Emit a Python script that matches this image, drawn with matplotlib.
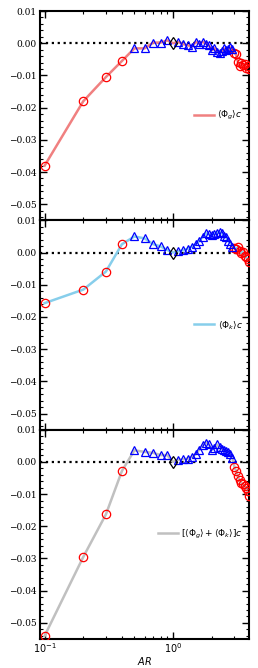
import numpy as np
import matplotlib
matplotlib.use("Agg")
import matplotlib.pyplot as plt
from matplotlib.ticker import AutoMinorLocator, LogLocator, NullFormatter

# aspect ratio values
ar_left = [0.1, 0.2, 0.3, 0.4]
ar_mid = [0.5, 0.6, 0.7, 0.8, 0.9]
ar_one = [1.0]
ar_tri = [1.1, 1.2, 1.3, 1.4, 1.5, 1.6, 1.7, 1.8, 1.9, 2.0,
          2.1, 2.2, 2.3, 2.4, 2.5, 2.6, 2.7, 2.8, 2.9]
ar_right = [3.0, 3.1, 3.2, 3.3, 3.4, 3.5, 3.6, 3.7, 3.8, 3.9]

# <Phi_g> c
phig_left = [-0.038, -0.018, -0.0105, -0.0055]
phig_mid = [-0.0016, -0.0016, 0.0002, 0.0002, 0.0009]
phig_one = [0.0]
phig_tri = [0.0004, -0.0003, -0.0006, -0.0011, 0.0004, -0.0001, 0.0004, -0.0001, -0.0006, -0.0022,
            -0.0015, -0.0027, -0.0029, -0.0025, -0.0016, -0.0022, -0.0018, -0.0013, -0.0017]
phig_right = [-0.003, -0.0035, -0.0058, -0.0072, -0.006, -0.0068, -0.0065, -0.0078, -0.007, -0.008]

# <Phi_k> c
phik_left = [-0.0157, -0.0115, -0.0059, 0.0026]
phik_mid = [0.005, 0.0044, 0.0026, 0.0019, 0.0008]
phik_one = [0.0]
phik_tri = [0.0004, 0.0007, 0.0012, 0.0018, 0.0026, 0.0036, 0.0048, 0.006, 0.0057, 0.0055,
            0.0058, 0.0062, 0.0064, 0.006, 0.0052, 0.0047, 0.0035, 0.0028, 0.0018]
phik_right = [0.0013, 0.001, 0.0018, 0.0005, -0.0002, 0.0003, -0.001, -0.0015, -0.002, -0.0028]

# [<Phi_g> + <Phi_k>] c
sum_left = [-0.054, -0.0295, -0.0163, -0.0028]
sum_mid = [0.0036, 0.0031, 0.0028, 0.0021, 0.0021]
sum_one = [0.0]
sum_tri = [0.0007, 0.0008, 0.001, 0.0015, 0.0024, 0.0038, 0.0052, 0.006, 0.0055, 0.0038,
           0.0042, 0.0054, 0.0046, 0.004, 0.0038, 0.0033, 0.003, 0.0025, 0.0012]
sum_right = [-0.0015, -0.0029, -0.0045, -0.0057, -0.0065, -0.007, -0.0075, -0.008, -0.0091, -0.0106]

panels = [
    (phig_left, phig_mid, phig_one, phig_tri, phig_right, '#f08080', r'$\langle\Phi_g\rangle c$'),
    (phik_left, phik_mid, phik_one, phik_tri, phik_right, '#87ceeb', r'$\langle\Phi_k\rangle c$'),
    (sum_left, sum_mid, sum_one, sum_tri, sum_right, '#c0c0c0',
     r'$[\langle\Phi_g\rangle + \langle\Phi_k\rangle]c$'),
]

fig, axes = plt.subplots(3, 1, figsize=(2.58, 6.68), dpi=100, sharex=True)
fig.subplots_adjust(left=0.155, right=0.965, top=0.9835, bottom=0.0434, hspace=0)

x_all = ar_left + ar_mid + ar_one + ar_tri + ar_right

for ax, (yl, ym, yo, yt, yr, col, lab) in zip(axes, panels):
    y_all = yl + ym + yo + yt + yr
    ax.axhline(0, color='black', ls=':', lw=1.6, zorder=1)
    ax.plot(x_all, y_all, color=col, lw=1.8, zorder=2, label=lab)
    ax.plot(ar_left, yl, 'o', mfc='none', mec='red', ms=6, mew=0.9, zorder=3)
    ax.plot(ar_right, yr, 'o', mfc='none', mec='red', ms=6, mew=0.9, zorder=3)
    ax.plot(ar_mid, ym, '^', mfc='none', mec='blue', ms=6, mew=0.9, zorder=3)
    ax.plot(ar_tri, yt, '^', mfc='none', mec='blue', ms=6, mew=0.9, zorder=3)
    ax.plot(ar_one, yo, 'd', mfc='none', mec='black', ms=6, mew=0.9, zorder=3)

    ax.set_xscale('log')
    ax.set_xlim(0.092, 3.9)
    ax.set_ylim(-0.055, 0.01)
    ax.set_yticks([0.01, 0.0, -0.01, -0.02, -0.03, -0.04, -0.05])
    ax.yaxis.set_minor_locator(AutoMinorLocator(5))
    ax.xaxis.set_minor_locator(LogLocator(base=10, subs=np.arange(2, 10)))
    ax.xaxis.set_minor_formatter(NullFormatter())
    ax.tick_params(which='both', direction='in', top=True, right=True)
    ax.tick_params(which='major', length=5, width=1)
    ax.tick_params(which='minor', length=2.5, width=0.8)
    ax.tick_params(axis='y', labelsize=6.5, pad=2.5)
    ax.tick_params(axis='x', labelsize=7, pad=1.5)
    for lbl in ax.get_yticklabels():
        lbl.set_family('DejaVu Serif')
    for sp in ax.spines.values():
        sp.set_linewidth(1.5)
    ax.legend(loc='center right', frameon=False, fontsize=6.5, handlelength=2.2,
              handletextpad=0.4, borderaxespad=0.3)

axes[-1].set_xlabel(r'$AR$', fontsize=7, labelpad=0)

plt.savefig('out.png', dpi=100)
